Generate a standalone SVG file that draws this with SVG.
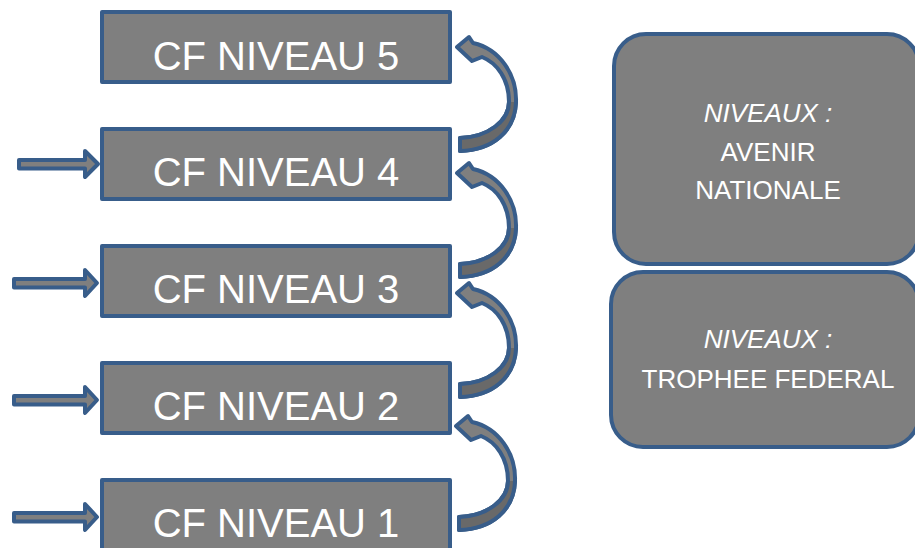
<svg xmlns="http://www.w3.org/2000/svg" xmlns:xlink="http://www.w3.org/1999/xlink" width="915" height="548" viewBox="0 0 915 548">
<style>
.box{fill:#7f7f7f;stroke:#385d8a;stroke-width:4;stroke-linejoin:round}
.big{font-family:"Liberation Sans",Arial,sans-serif;font-size:40px;fill:#ffffff;text-anchor:middle}
.sm{font-family:"Liberation Sans",Arial,sans-serif;font-size:26px;fill:#ffffff;text-anchor:middle}
.it{font-style:italic}
.arr{fill:#7f7f7f;stroke:#385d8a;stroke-width:4;stroke-linejoin:round}
.shade{fill:#696969;stroke:none}
</style>
<defs>
<g id="curve">
<path class="arr" d="M2,0 L14,-10 L18,-4 C45,2 62,28 61,55 C60,84 38,103 5,104 L5,91 C33,90 54,74 54,55 C54,32 42,16 27,10 L17,14 Z"/>
<path class="shade" d="M54,55 C54,74 33,90 6.5,92.5 L6.5,102.3 C38,101 59,84 59.5,55 Z"/>
<path d="M61,55 C60,84 38,103 5,104 L5,91 C33,90 54,74 54,55" fill="none" stroke="#385d8a" stroke-width="4" stroke-linejoin="round"/>
</g>
</defs>
<g id="connectors">
<polygon class="arr" points="19,160 85,160 85,151 98,164 85,177 85,168.5 19,168.5"/>
<polygon class="arr" points="14,279 85,279 85,270 97,283 85,296 85,287.5 14,287.5"/>
<polygon class="arr" points="14,396 85,396 85,387 97,400 85,413 85,404.5 14,404.5"/>
<polygon class="arr" points="14,513 85,513 85,504 97,517 85,530 85,521.5 14,521.5"/>
<use xlink:href="#curve" transform="translate(455,47)"/>
<use xlink:href="#curve" transform="translate(455,173)"/>
<use xlink:href="#curve" transform="translate(455,293)"/>
<use xlink:href="#curve" transform="translate(454,426)"/>
</g>
<g id="n5"><rect class="box" x="102" y="12" width="348" height="70"/><text class="big" x="276" y="70">CF NIVEAU 5</text></g>
<g id="n4"><rect class="box" x="102" y="129" width="348" height="70"/><text class="big" x="276" y="186">CF NIVEAU 4</text></g>
<g id="n3"><rect class="box" x="102" y="246" width="348" height="70"/><text class="big" x="276" y="303">CF NIVEAU 3</text></g>
<g id="n2"><rect class="box" x="102" y="363" width="348" height="70"/><text class="big" x="276" y="420">CF NIVEAU 2</text></g>
<g id="n1"><rect class="box" x="102" y="480" width="348" height="70"/><text class="big" x="276" y="537">CF NIVEAU 1</text></g>
<g id="avenir"><rect class="box" x="614" y="34" width="305" height="230" rx="32"/>
<text class="sm it" x="768" y="122">NIVEAUX :</text>
<text class="sm" x="768" y="161">AVENIR</text>
<text class="sm" x="768" y="199">NATIONALE</text></g>
<g id="trophee"><rect class="box" x="611" y="272" width="308" height="175" rx="32"/>
<text class="sm it" x="768" y="348">NIVEAUX :</text>
<text class="sm" x="768" y="388">TROPHEE FEDERAL</text></g>
</svg>
